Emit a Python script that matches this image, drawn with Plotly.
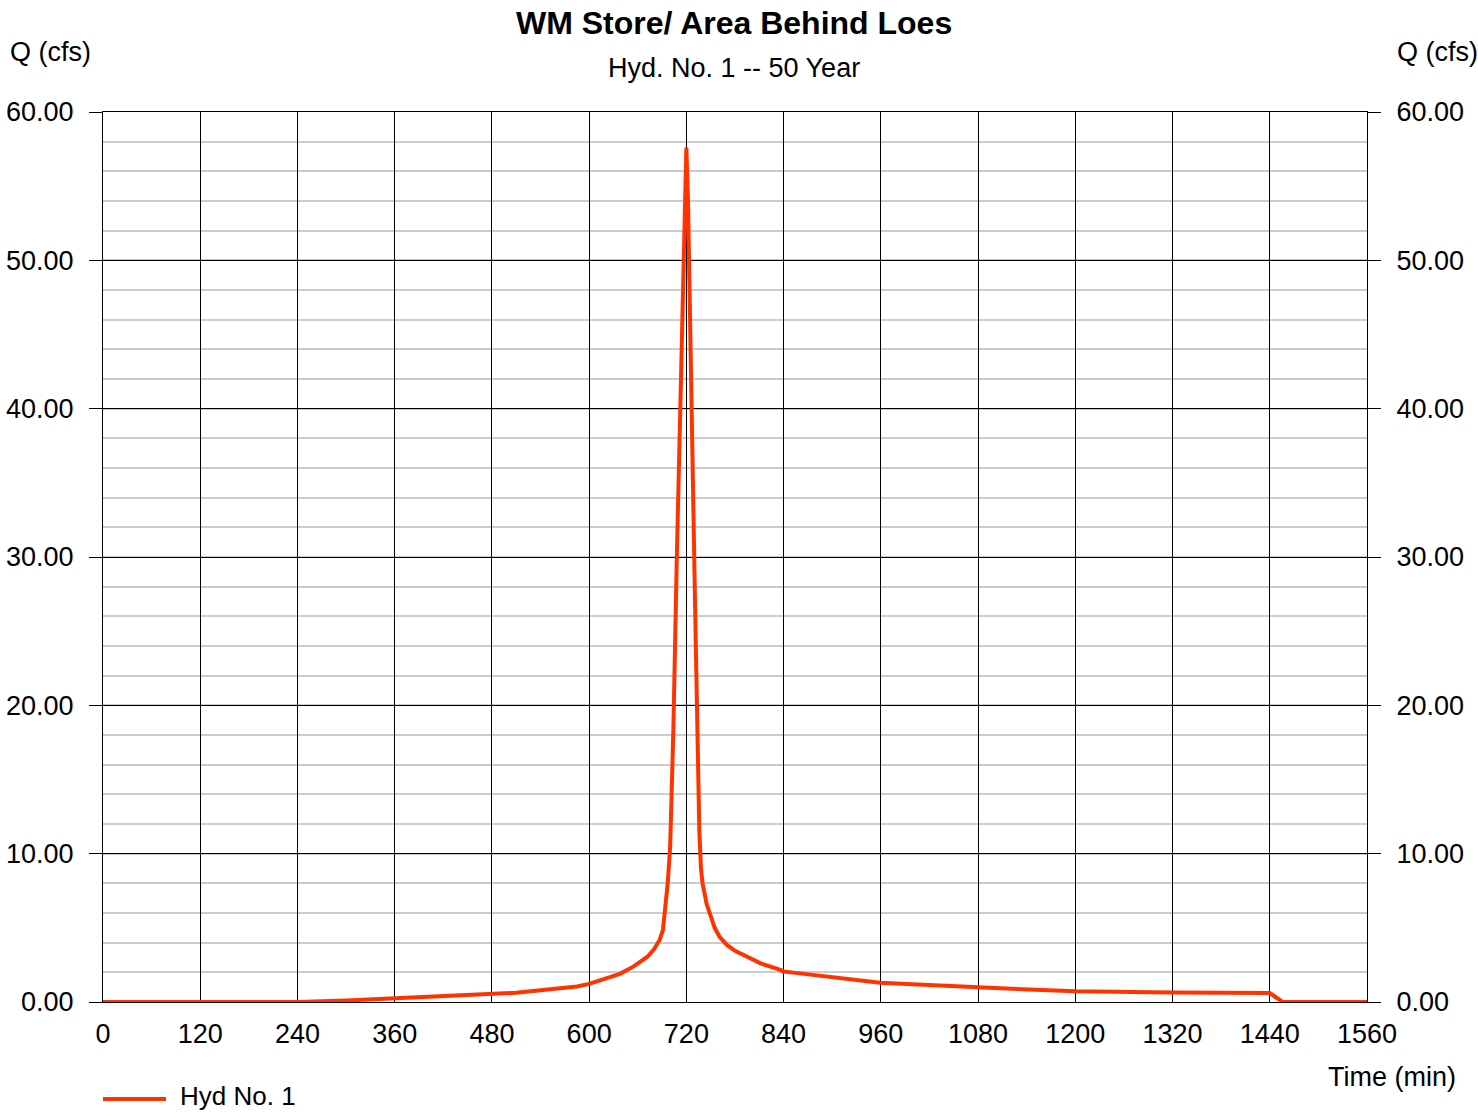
import plotly.graph_objects as go

# ---- data ----
time_min = [0, 120, 240, 300, 360, 420, 480, 510, 540, 565, 585, 600, 620, 638, 655, 665, 672, 680, 687, 691,
            694, 697, 700, 704, 708, 712, 716, 720, 722, 724, 726, 728, 730, 732, 734, 736, 738, 740,
            745, 750, 755, 761, 770, 780, 794, 811, 836, 840, 852, 900, 959, 1080, 1200, 1320, 1440, 1456, 1560]
flow_cfs = [0, 0, 0, 0.10, 0.25, 0.38, 0.53, 0.62, 0.79, 0.95, 1.05, 1.22, 1.55, 1.90, 2.40, 2.75, 3.05, 3.55, 4.18, 4.85,
            6.2, 8.0, 10.5, 18.5, 29.5, 39.0, 49.5, 57.6, 54.0, 48.5, 41.5, 35.0, 29.0, 23.0, 17.0, 11.5, 9.0, 8.0,
            6.6, 5.7, 5.0, 4.4, 3.85, 3.45, 3.05, 2.62, 2.16, 2.05, 1.98, 1.68, 1.30, 0.99, 0.72, 0.64, 0.60, 0.0, 0.0]

x_ticks = [0, 120, 240, 360, 480, 600, 720, 840, 960, 1080, 1200, 1320, 1440, 1560]
y_ticks = [0, 10, 20, 30, 40, 50, 60]
y_tick_labels = ["0.00", "10.00", "20.00", "30.00", "40.00", "50.00", "60.00"]

title_text = "WM Store/ Area Behind Loes"
subtitle_text = "Hyd. No. 1 -- 50 Year"
series_name = "Hyd No. 1"

LINE_COLOR = "#ff3300"
FONT = "Liberation Sans, Arial, sans-serif"
FS = 27

fig = go.Figure()
fig.add_trace(go.Scatter(x=time_min, y=flow_cfs, mode="lines", name=series_name,
                         line=dict(color=LINE_COLOR, width=4), showlegend=False))
# invisible companion so the right axis is drawn
fig.add_trace(go.Scatter(x=[time_min[0]], y=[flow_cfs[0]], yaxis="y2", mode="lines",
                         line=dict(width=0), showlegend=False, hoverinfo="skip"))

yaxis_common = dict(
    range=[0, 60], tickmode="array", tickvals=y_ticks, ticktext=y_tick_labels,
    ticks="outside", ticklen=13, tickcolor="black", tickwidth=1,
    tickfont=dict(family=FONT, size=FS, color="black"),
    ticklabelstandoff=10, zeroline=False,
)

fig.update_layout(
    width=1478, height=1112,
    paper_bgcolor="white", plot_bgcolor="white",
    margin=dict(l=103, r=111, t=112, b=110, autoexpand=False),
    font=dict(family=FONT, size=FS, color="black"),
    showlegend=False,
    xaxis=dict(
        range=[0, 1560], tickmode="array", tickvals=x_ticks,
        ticks="", tickfont=dict(family=FONT, size=FS, color="black"),
        ticklabelstandoff=8,
        showgrid=True, gridcolor="black", gridwidth=1,
        showline=True, linecolor="black", linewidth=1, mirror=True,
        zeroline=False,
    ),
    yaxis=dict(
        **yaxis_common,
        showgrid=True, gridcolor="black", gridwidth=1,
        minor=dict(dtick=2, showgrid=True, gridcolor="#cccccc", gridwidth=2, ticks=""),
        showline=True, linecolor="black", linewidth=1, mirror=True,
    ),
    yaxis2=dict(
        **yaxis_common, overlaying="y", side="right", showgrid=False,
        showline=False,
    ),
    annotations=[
        dict(text="<b>" + title_text + "</b>", xref="paper", yref="paper", x=(734 - 103) / 1264, y=(1002 - 23) / 890,
             xanchor="center", yanchor="middle", showarrow=False, font=dict(family=FONT, size=32, color="black")),
        dict(text=subtitle_text, xref="paper", yref="paper", x=(734 - 103) / 1264, y=(1002 - 68) / 890,
             xanchor="center", yanchor="middle", showarrow=False, font=dict(family=FONT, size=FS)),
        dict(text="Q (cfs)", xref="paper", yref="paper", x=(50 - 103) / 1264, y=(1002 - 52) / 890,
             xanchor="center", yanchor="middle", showarrow=False, font=dict(family=FONT, size=FS)),
        dict(text="Q (cfs)", xref="paper", yref="paper", x=(1437 - 103) / 1264, y=(1002 - 52) / 890,
             xanchor="center", yanchor="middle", showarrow=False, font=dict(family=FONT, size=FS)),
        dict(text="Time (min)", xref="paper", yref="paper", x=(1392 - 103) / 1264, y=(1002 - 1077) / 890,
             xanchor="center", yanchor="middle", showarrow=False, font=dict(family=FONT, size=FS)),
        dict(text=series_name, xref="paper", yref="paper", x=(179 - 103) / 1264, y=(1002 - 1112) / 890,
             xanchor="left", yanchor="bottom", showarrow=False, borderpad=0,
             font=dict(family=FONT, size=26)),
    ],
    shapes=[
        dict(type="line", xref="paper", yref="paper", x0=(103 - 103) / 1264, x1=(166 - 103) / 1264,
             y0=(1002 - 1099) / 890, y1=(1002 - 1099) / 890,
             line=dict(color=LINE_COLOR, width=4)),
    ],
)

fig.write_html("out.html")
